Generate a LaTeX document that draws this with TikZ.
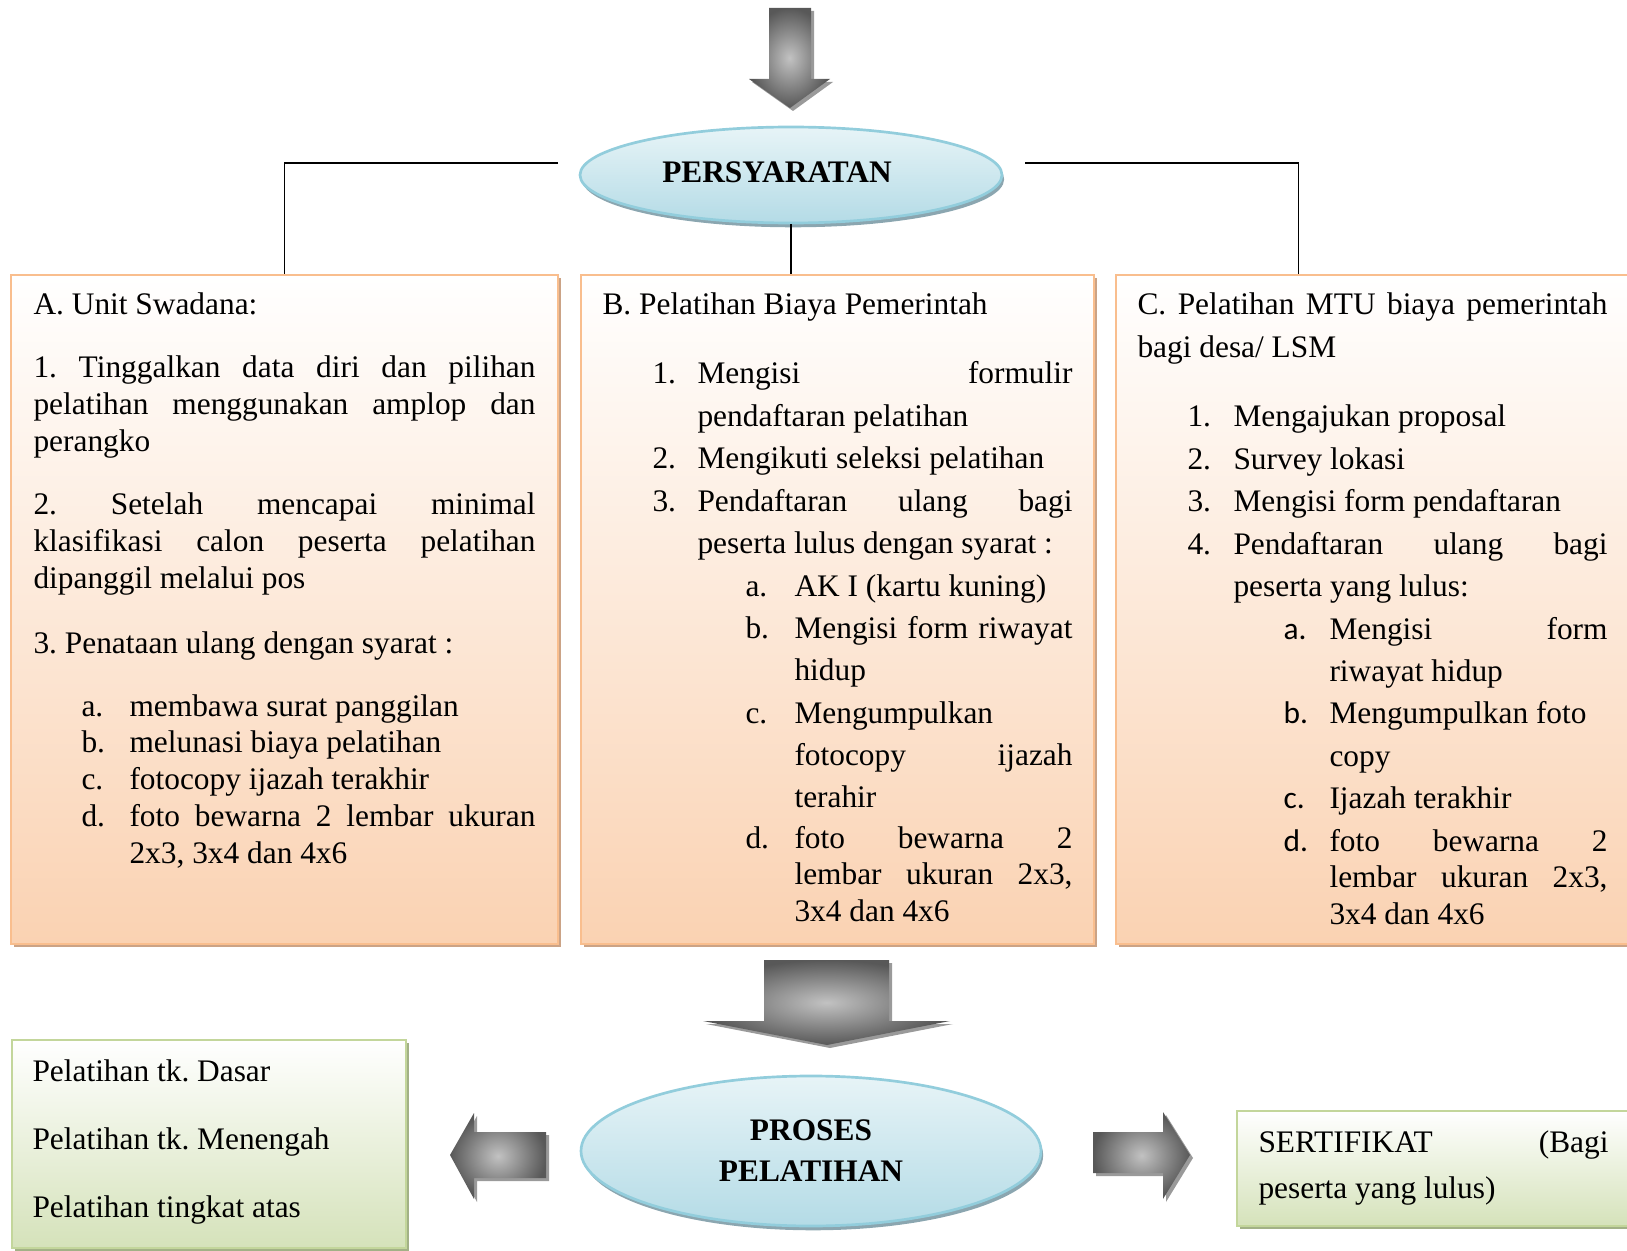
\documentclass[tikz,border=0pt]{standalone}
\usepackage{fontspec}
\setmainfont{Liberation Serif}
\newfontfamily\sanslbl{Carlito}
\usetikzlibrary{shapes.geometric,shadows}

\newdimen\px \px=0.373pt
\frenchspacing
\hyphenpenalty=10000 \exhyphenpenalty=10000 \tolerance=10000 \hbadness=10000
% list item with hanging label
\newcommand{\itm}[2]{\noindent\hangindent=#1\px\hangafter=1\makebox[#1\px][l]{#2}\ignorespaces}

\definecolor{peachline}{HTML}{F9BE8E}
\definecolor{peachfill}{HTML}{FAD2B2}
\definecolor{peachshadow}{HTML}{CBA386}
\definecolor{greenline}{HTML}{C3D69B}
\definecolor{greenfill}{HTML}{D5E2BA}
\definecolor{greenshadow}{HTML}{A2B186}
\definecolor{blueline}{HTML}{92CDDC}
\definecolor{bluetop}{HTML}{E7F4F7}
\definecolor{bluefill}{HTML}{B4DBE6}
\definecolor{blueshadow}{HTML}{8BA6B0}
\definecolor{arrowin}{HTML}{C2C2C2}
\definecolor{arrowout}{HTML}{585858}
\definecolor{arrowshadow}{HTML}{9A9A9A}

\begin{document}
\begin{tikzpicture}[x=0.373pt, y=-0.373pt,
        box/.style={rectangle, draw=peachline, line width=1.1pt, top color=white, bottom color=peachfill,
            drop shadow={shadow xshift=1.2pt, shadow yshift=-1.2pt, fill=peachshadow, opacity=1}},
        gbox/.style={rectangle, draw=greenline, line width=1.1pt, top color=white, bottom color=greenfill,
            drop shadow={shadow xshift=1.2pt, shadow yshift=-1.2pt, fill=greenshadow, opacity=1}},
        oval/.style={ellipse, draw=blueline, line width=1pt, top color=bluetop, bottom color=bluefill,
            inner sep=0pt, align=center, font=\fontsize{11.7}{15.3}\selectfont\bfseries,
            drop shadow={shadow xshift=0.8pt, shadow yshift=-1.6pt, fill=blueshadow, opacity=1}},
        txt/.style={inner sep=0pt, anchor=base west, align=justify, text width=#1*\px,
            font=\fontsize{11.7}{13.8}\selectfont},
        wide/.style={font=\fontsize{11.7}{15.8}\selectfont},
        link/.style={line width=0.6pt},
        blk/.style={inner color=arrowin, outer color=arrowout,
            preaction={fill=arrowshadow, transform canvas={shift={(3,3)}}}},
    ]
    \useasboundingbox (0,0) rectangle (1627,1251);

    % Block arrows
    \shade[blk] (769,8) -- (811,8) -- (811,79) -- (830,79) -- (790,108) -- (749,79) -- (769,79) -- cycle;
    \shade[blk] (764,960) -- (889,960) -- (889,1021) -- (950,1021) -- (827,1045) -- (703,1021) -- (764,1021) -- cycle;
    \shade[blk] (546,1132) -- (474,1132) -- (474,1113) -- (450,1155) -- (474,1199) -- (474,1178) -- (546,1178) -- cycle;
    \shade[blk] (1093,1132) -- (1163,1132) -- (1163,1112) -- (1190,1155) -- (1163,1199) -- (1163,1173) -- (1093,1173) -- cycle;

    % Ovals
    \node[oval, minimum width=422*\px, minimum height=96*\px] (pers) at (791,175) {\raisebox{6\px}{\hspace*{-28\px}PERSYARATAN}};
    \node[oval, minimum width=460*\px, minimum height=150*\px] (proses) at (811,1151) {PROSES\\PELATIHAN};

    % Boxes
    \node[box, minimum width=547*\px, minimum height=669*\px] (boxA) at (284.5,609.5) {};
    \node[box, minimum width=513*\px, minimum height=669*\px] (boxB) at (837.5,609.5) {};
    \node[box, minimum width=554*\px, minimum height=669*\px] (boxC) at (1393,609.5) {};
    \node[gbox, minimum width=394*\px, minimum height=208*\px] (level) at (209,1144) {};
    \node[gbox, minimum width=443*\px, minimum height=115*\px] (cert) at (1458.5,1168.5) {};

    % Links from PERSYARATAN
    \coordinate (jl) at (558,163);
    \coordinate (jr) at (1025,163);
    \draw[link] (jl) -| (boxA.north);
    \draw[link] (jr) -| ([xshift=184*\px]boxC.north west);
    \draw[link] (pers.south) -- (pers.south |- boxB.north);

    % Box A: Unit Swadana
    \node[txt=502] (tA) at (33,315) {A. Unit Swadana:};
    \node[txt=502] (a1) at (33,378) {1. Tinggalkan data diri dan pilihan\linebreak pelatihan menggunakan amplop dan\linebreak perangko\par};
    \node[txt=502] (a2) at (33,515) {2. Setelah mencapai minimal\linebreak klasifikasi calon peserta pelatihan\linebreak dipanggil melalui pos\par};
    \node[txt=502] (a3) at (33,653) {3. Penataan ulang dengan syarat :};
    \node[txt=454] (a3x) at (81,716) {\itm{48}{a.}membawa surat panggilan\par
        \itm{48}{b.}melunasi biaya pelatihan\par
        \itm{48}{c.}fotocopy ijazah terakhir\par
        \itm{48}{d.}foto bewarna 2 lembar ukuran\linebreak 2x3, 3x4 dan 4x6\par};

    % Box B: Pelatihan Biaya Pemerintah
    \node[txt=470] (tB) at (602,315) {B. Pelatihan Biaya Pemerintah};
    \node[txt=420, wide] (b1) at (652,384) {\itm{45}{1.}Mengisi formulir\linebreak pendaftaran pelatihan\par
        \itm{45}{2.}Mengikuti seleksi pelatihan\par
        \itm{45}{3.}Pendaftaran ulang bagi\linebreak peserta lulus dengan syarat :\par};
    \node[txt=327, wide] (b3) at (745,596) {\itm{49}{a.}AK I (kartu kuning)\par
        \itm{49}{b.}Mengisi form riwayat\linebreak hidup\par
        \itm{49}{c.}Mengumpulkan\linebreak fotocopy ijazah\linebreak terahir\par};
    \node[txt=327] (b3d) at (745,848) {\itm{49}{d.}foto bewarna 2\linebreak lembar ukuran 2x3,\linebreak 3x4 dan 4x6\par};

    % Box C: Pelatihan MTU
    \node[txt=470, wide] (tC) at (1137,315) {C. Pelatihan MTU biaya pemerintah\linebreak bagi desa/ LSM\par};
    \node[txt=420, wide] (c1) at (1187,427) {\itm{46}{1.}Mengajukan proposal\par
        \itm{46}{2.}Survey lokasi\par
        \itm{46}{3.}Mengisi form pendaftaran\par
        \itm{46}{4.}Pendaftaran ulang bagi\linebreak peserta yang lulus:\par};
    \node[txt=324, wide] (c4) at (1283,639) {\itm{46}{\sanslbl a.}Mengisi form\linebreak riwayat hidup\par
        \itm{46}{\sanslbl b.}Mengumpulkan foto\newline copy\par
        \itm{46}{\sanslbl c.}Ijazah terakhir\par};
    \node[txt=324] (c4d) at (1283,851) {\itm{46}{\sanslbl d.}foto bewarna 2\linebreak lembar ukuran 2x3,\linebreak 3x4 dan 4x6\par};

    % Bottom boxes
    \node[txt=360, font=\fontsize{11.7}{25.5}\selectfont] (lv) at (32,1081) {Pelatihan tk. Dasar\par Pelatihan tk. Menengah\par Pelatihan tingkat atas\par};
    \node[txt=350, font=\fontsize{11.7}{17.5}\selectfont] (ct) at (1258,1152) {SERTIFIKAT (Bagi\linebreak peserta yang lulus)\par};
\end{tikzpicture}
\end{document}
